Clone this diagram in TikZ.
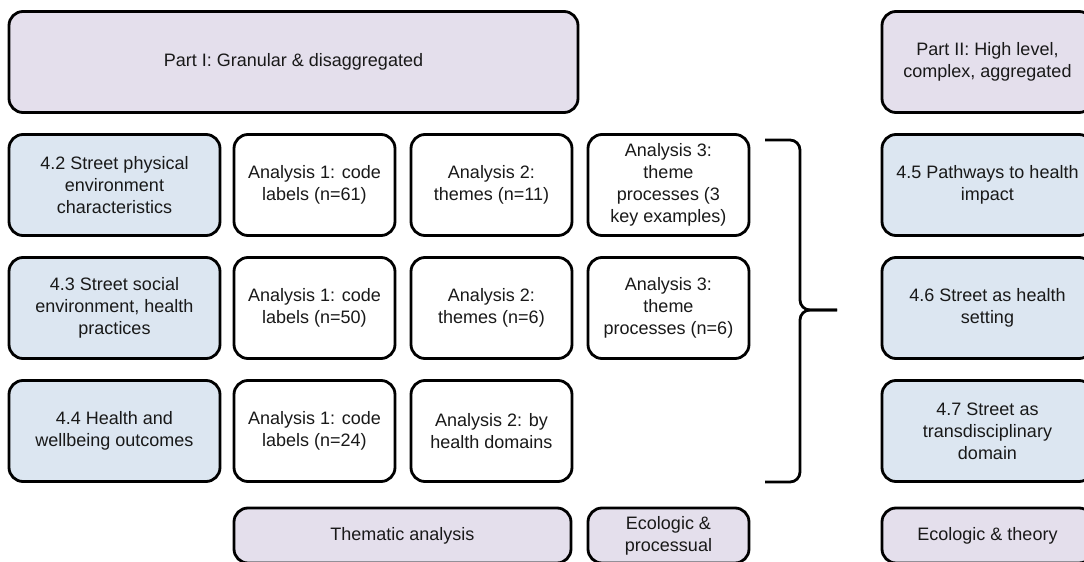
\documentclass[tikz,border=0pt]{standalone}
\usepackage{fontspec}
\setmainfont{Liberation Sans}
\usepackage{xcolor}
\usepackage{tikz}
\definecolor{partfill}{HTML}{E4DFEC}
\definecolor{secfill}{HTML}{DCE6F1}

\begin{document}
\begin{tikzpicture}[node distance=61.5pt, font=\fontsize{9}{11}\selectfont]
\tikzstyle{partbox} = [rectangle, rounded corners=7pt, line width=1.4pt, minimum height=50.5pt, align=center, draw=black, fill=partfill, text=black!90]
\tikzstyle{secbox} = [rectangle, rounded corners=7pt, line width=1.4pt, minimum width=105.5pt, minimum height=50.5pt, align=center, draw=black, fill=secfill, text=black!90]
\tikzstyle{anbox} = [rectangle, rounded corners=7pt, line width=1.4pt, minimum width=80.5pt, minimum height=50.5pt, align=center, draw=black, fill=white, text=black!90]
\tikzstyle{methbox} = [rectangle, rounded corners=7pt, line width=1.4pt, minimum height=27.5pt, align=center, draw=black, fill=partfill, text=black!90]
\tikzstyle{bracket} = [line width=1.4pt, rounded corners=5pt]

\useasboundingbox (-57.25pt,92.5pt) rectangle (484.75pt,-188.5pt);

% Part I
\node (s42) [secbox] {4.2 Street physical\\environment\\characteristics};
\node (s43) [secbox, below of=s42] {4.3 Street social\\environment, health\\practices};
\node (s44) [secbox, below of=s43] {4.4 Health and\\wellbeing outcomes};
\node (partI) [partbox, minimum width=284.5pt, above of=s42, xshift=89.5pt] {Part I: Granular \& disaggregated};

\node (a11) [anbox, right of=s42, xshift=38.5pt] {Analysis 1: code\\labels (n=61)};
\node (a21) [anbox, right of=a11, xshift=27pt] {Analysis 2:\\themes (n=11)};
\node (a31) [anbox, right of=a21, xshift=27pt] {Analysis 3:\\theme\\processes (3\\key examples)};
\node (a12) [anbox, below of=a11] {Analysis 1: code\\labels (n=50)};
\node (a22) [anbox, below of=a21] {Analysis 2:\\themes (n=6)};
\node (a32) [anbox, below of=a31] {Analysis 3:\\theme\\processes (n=6)};
\node (a13) [anbox, below of=a12] {Analysis 1: code\\labels (n=24)};
\node (a23) [anbox, below of=a22] {Analysis 2: by\\health domains};

\node (them) [methbox, minimum width=168.5pt, below of=a13, xshift=44pt, yshift=9.25pt] {Thematic analysis};
\node (ecoproc) [methbox, minimum width=80.5pt, right of=them, xshift=71.5pt] {Ecologic \&\\processual};

% Part II
\node (s45) [secbox, right of=a31, xshift=98pt] {4.5 Pathways to health\\impact};
\node (s46) [secbox, below of=s45] {4.6 Street as health\\setting};
\node (s47) [secbox, below of=s46] {4.7 Street as\\transdisciplinary\\domain};
\node (partII) [partbox, minimum width=105.5pt, above of=s45] {Part II: High level,\\complex, aggregated};
\node (ecotheo) [methbox, minimum width=105.5pt, right of=ecoproc, xshift=98pt] {Ecologic \& theory};

% brace
\coordinate (bt) at (325.25pt,22.5pt);
\coordinate (tip) at (361.25pt,-62.5pt);
\coordinate (bb) at (325.25pt,-148.5pt);
\draw [bracket] (bt) -- (342.75pt,22.5pt) -- (342.75pt,-62.5pt) -- (tip);
\draw [bracket] (tip) -- (342.75pt,-62.5pt) -- (342.75pt,-148.5pt) -- (bb);
\end{tikzpicture}
\end{document}
